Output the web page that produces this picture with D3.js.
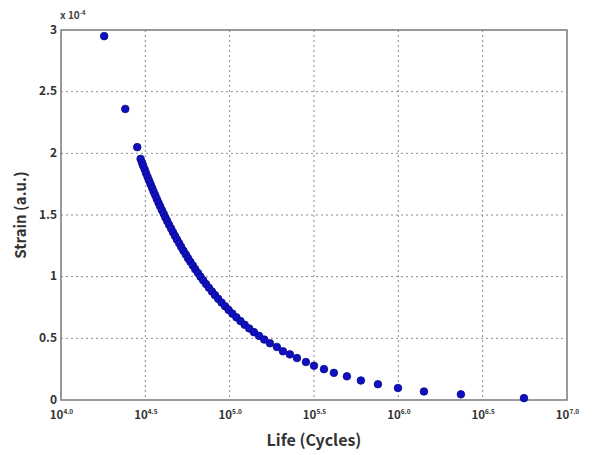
<!DOCTYPE html>
<html>
<head>
<meta charset="utf-8">
<script src="https://cdn.jsdelivr.net/npm/d3@7"></script>
<style>
  html, body { margin: 0; padding: 0; background: #fff; }
  svg { display: block; }
  text { font-family: "Noto Sans CJK KR", "Open Sans", sans-serif; }
</style>
</head>
<body>
<svg id="chart" width="596" height="455"></svg>
<script>
// Strain–life data: x = log10(cycles), y = strain in units of 1e-4
const lifeExp = [
  4.256, 4.381, 4.452, 4.472, 4.480,
  4.487, 4.496, 4.504, 4.513, 4.522, 4.531, 4.540, 4.549, 4.559, 4.568,
  4.578, 4.588, 4.598, 4.609, 4.619, 4.630, 4.641, 4.653, 4.664, 4.676,
  4.688, 4.701, 4.713, 4.726, 4.740, 4.753, 4.767, 4.782, 4.796, 4.812,
  4.827, 4.843, 4.860, 4.877, 4.895, 4.913, 4.932, 4.952, 4.973, 4.994,
  5.016, 5.040, 5.064, 5.089, 5.116, 5.144, 5.174, 5.205, 5.239,
  5.280, 5.316, 5.357, 5.399, 5.452, 5.500, 5.559, 5.618, 5.695, 5.778,
  5.879, 5.998, 6.152, 6.371, 6.745
];
const strain = [
  2.95, 2.36, 2.05, 1.955, 1.925,
  1.90, 1.87, 1.84, 1.81, 1.78, 1.75, 1.72, 1.69, 1.66, 1.63,
  1.60, 1.57, 1.54, 1.51, 1.48, 1.45, 1.42, 1.39, 1.36, 1.33,
  1.30, 1.27, 1.24, 1.21, 1.18, 1.15, 1.12, 1.09, 1.06, 1.03,
  1.00, 0.97, 0.94, 0.91, 0.88, 0.85, 0.82, 0.79, 0.76, 0.73,
  0.70, 0.67, 0.64, 0.61, 0.58, 0.55, 0.52, 0.49, 0.46,
  0.430, 0.395, 0.370, 0.340, 0.308, 0.278, 0.250, 0.220, 0.192, 0.158,
  0.128, 0.097, 0.069, 0.046, 0.015
];
const xTicks = [4.0, 4.5, 5.0, 5.5, 6.0, 6.5, 7.0];
const xTickExp = ["4.0", "4.5", "5.0", "5.5", "6.0", "6.5", "7.0"];
const yTicks = [0, 0.5, 1, 1.5, 2, 2.5, 3];
const yTickLabels = ["0", "0.5", "1", "1.5", "2", "2.5", "3"];

const svg = d3.select("#chart");
const margin = { left: 61, right: 29, top: 30, bottom: 55 };
const W = 596, H = 455;
const pw = W - margin.left - margin.right;
const ph = H - margin.top - margin.bottom;

const x = d3.scaleLinear().domain([4, 7]).range([0, pw]);
const y = d3.scaleLinear().domain([0, 3]).range([ph, 0]);

const g = svg.append("g").attr("transform", `translate(${margin.left},${margin.top})`);

// dotted grid
const grid = g.append("g");
grid.selectAll("line.gx").data(xTicks.slice(1, -1)).join("line")
  .attr("x1", d => x(d)).attr("x2", d => x(d))
  .attr("y1", 0).attr("y2", ph)
  .attr("stroke", "#8a8a8a").attr("stroke-width", 1).attr("stroke-dasharray", "2,3");
grid.selectAll("line.gy").data(yTicks.slice(1, -1)).join("line")
  .attr("x1", 0).attr("x2", pw)
  .attr("y1", d => y(d)).attr("y2", d => y(d))
  .attr("stroke", "#8a8a8a").attr("stroke-width", 1).attr("stroke-dasharray", "2,3");

// axes (labels only; the frame is drawn separately)
const xAxis = d3.axisBottom(x).tickValues(xTicks).tickSize(0).tickFormat(() => "");
const xa = g.append("g").attr("transform", `translate(0,${ph})`).call(xAxis);
xa.select(".domain").remove();
xa.selectAll(".tick").each(function(d, i) {
  const t = d3.select(this).append("text")
    .attr("y", 19).attr("text-anchor", "middle")
    .attr("fill", "#333").attr("font-weight", "bold").attr("font-size", 11.5);
  t.append("tspan").text("10");
  t.append("tspan").attr("dy", -5).attr("font-size", 6.5).text(xTickExp[i]);
});

const yAxis = d3.axisLeft(y).tickValues(yTicks).tickSize(0).tickPadding(4)
  .tickFormat((d, i) => yTickLabels[i]);
const ya = g.append("g").call(yAxis);
ya.select(".domain").remove();
ya.selectAll(".tick text")
  .attr("fill", "#333").attr("font-weight", "bold").attr("font-size", 12)
  .attr("dy", "0.25em")
  .attr("font-family", "\"Noto Sans CJK KR\", \"Open Sans\", sans-serif");

// frame
g.append("rect").attr("x", 0).attr("y", 0).attr("width", pw).attr("height", ph)
  .attr("fill", "none").attr("stroke", "#7a7a7a").attr("stroke-width", 1.5);

// data points
g.append("g").selectAll("circle").data(lifeExp.map((v, i) => [v, strain[i]])).join("circle")
  .attr("cx", d => x(d[0])).attr("cy", d => y(d[1])).attr("r", 3.8)
  .attr("fill", "#1010c0").attr("stroke", "#08088c").attr("stroke-width", 0.8);

// multiplier
const mult = svg.append("text").attr("x", 60).attr("y", 19)
  .attr("fill", "#444").attr("font-size", 10).attr("font-weight", "bold");
mult.append("tspan").text("x 10");
mult.append("tspan").attr("dy", -4).attr("font-size", 6).text("-4");

// axis titles
svg.append("text").attr("x", margin.left + pw / 2).attr("y", 446)
  .attr("text-anchor", "middle").attr("fill", "#333")
  .attr("font-weight", "bold").attr("font-size", 16).text("Life (Cycles)");
svg.append("text")
  .attr("transform", `translate(26,${margin.top + ph / 2}) rotate(-90)`)
  .attr("text-anchor", "middle").attr("fill", "#333")
  .attr("font-weight", "bold").attr("font-size", 15).text("Strain (a.u.)");
</script>
</body>
</html>
